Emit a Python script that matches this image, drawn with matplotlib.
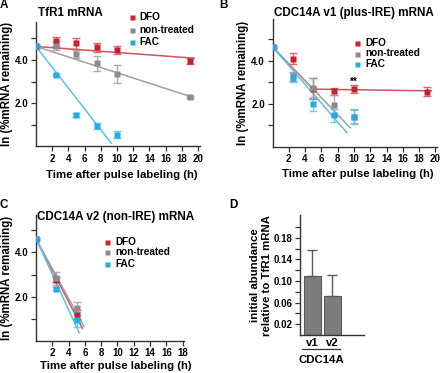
import matplotlib
matplotlib.use("Agg")
import matplotlib.pyplot as plt
import numpy as np

plt.rcParams['font.family'] = ['Liberation Sans', 'DejaVu Sans']
plt.rcParams['font.weight'] = 'bold'

RED = '#c8202f'
GREY = '#8c8c8c'
BLUE = '#29abe2'
RED_L = '#d8505c'
GREY_L = '#a0a0a0'
BLUE_L = '#5cc0ea'

series = ['DFO', 'non-treated', 'FAC']

# Panel A: TfR1 mRNA
a_x = [0, 2.5, 5, 7.5, 10, 19]
a_dfo = [4.62, 4.85, 4.77, 4.58, 4.46, 3.94]
a_dfo_err = [0.05, 0.22, 0.25, 0.2, 0.2, 0.13]
a_nt = [4.62, 4.66, 4.28, 3.85, 3.35, 2.28]
a_nt_err = [0.05, 0.22, 0.18, 0.35, 0.4, 0.05]
a_fac_x = [0, 2.5, 5, 7.5, 10]
a_fac = [4.62, 3.29, 1.46, 0.95, 0.54]
a_fac_err = [0.05, 0.05, 0.1, 0.12, 0.17]
a_fit_dfo = ([0, 19.5], [4.62, 4.08])
a_fit_nt = ([0, 19.3], [4.62, 2.28])
a_fit_fac = ([0, 9.3], [4.62, 0.15])

# Panel B: CDC14A v1 (plus-IRE)
b_x = [0, 2.5, 5, 7.5, 10, 19]
b_dfo = [4.65, 4.1, 2.7, 2.58, 2.68, 2.56]
b_dfo_err = [0.05, 0.25, 0.5, 0.15, 0.2, 0.22]
b_nt_x = [0, 2.5, 5, 7.5, 10]
b_nt = [4.65, 3.28, 2.75, 1.92, 1.4]
b_nt_err = [0.05, 0.2, 0.45, 0.5, 0.3]
b_fac_x = [0, 2.5, 5, 7.5, 10]
b_fac = [4.65, 3.22, 1.97, 1.47, 1.4]
b_fac_err = [0.05, 0.2, 0.3, 0.3, 0.35]
b_fit_dfo = ([0, 5, 19.5], [4.65, 2.68, 2.6])
b_fit_nt = ([0, 9.55], [4.65, 0.88])
b_fit_fac = ([0, 9.15], [4.65, 0.65])

# Panel C: CDC14A v2 (non-IRE)
c_x = [0, 2.5, 5]
c_dfo = [4.62, 2.76, 1.17]
c_dfo_err = [0.05, 0.12, 0.2]
c_nt = [4.62, 2.83, 1.47]
c_nt_err = [0.05, 0.3, 0.3]
c_fac = [4.62, 2.36, 0.95]
c_fac_err = [0.05, 0.08, 0.35]
c_fit_dfo = ([0, 5.7], [4.62, 0.56])
c_fit_nt = ([0, 5.9], [4.62, 0.64])
c_fit_fac = ([0, 5.3], [4.62, 0.36])

# Panel D
d_cats = ['v1', 'v2']
d_vals = [0.110, 0.072]
d_err = [0.048, 0.039]

W, H = 440, 373
fig = plt.figure(figsize=(W / 100, H / 100), dpi=100)


def fx(x):
    return x / W


def fy(y):
    return 1 - y / H


def px_axes(x0, x1, ytop, ybot):
    return fig.add_axes([x0 / W, 1 - ybot / H, (x1 - x0) / W, (ybot - ytop) / H])


def style_ax(ax, xmax, ymax, xticks, ylab_x):
    for s in ['top', 'right']:
        ax.spines[s].set_visible(False)
    for s in ['left', 'bottom']:
        ax.spines[s].set_linewidth(1.0)
        ax.spines[s].set_color('#333333')
    ax.set_xlim(0, xmax)
    ax.set_ylim(0, ymax)
    ax.set_xticks(xticks)
    ax.set_xticklabels([str(t) for t in xticks])
    ax.set_yticks([1, 2, 3, 4, 5])
    ax.set_yticklabels(['', '2.0', '', '4.0', ''])
    ax.tick_params(labelsize=7, length=3.5, width=0.9, pad=2, color='#333333')
    ax.set_ylabel('ln (%mRNA remaining)', fontsize=8.3, fontweight='bold', va='center')
    ax.yaxis.set_label_coords(ylab_x, 0.5)


def draw_series(ax, x, y, err, fit, color, light):
    ax.plot(fit[0], fit[1], color=light, lw=1.1, zorder=2)
    ax.errorbar(x, y, yerr=err, fmt='none', ecolor=light, elinewidth=1.0,
                capsize=3.2, capthick=1.0, zorder=3, alpha=0.85)
    ax.plot(x, y, 's', color=color, ms=4, zorder=4, mec='none')


def legend(mx, tx, ys):
    for lab, c, y in zip(series, [RED, GREY, BLUE], ys):
        fig.add_artist(plt.Line2D([fx(mx)], [fy(y)], marker='s', color=c, ms=3.6, mec='none', lw=0))
        fig.text(fx(tx), fy(y), lab, fontsize=7.2, fontweight='bold', va='center', ha='left')


def xlabel(cx, cy):
    fig.text(fx(cx), fy(cy), 'Time after pulse labeling (h)', fontsize=8.2,
             fontweight='bold', ha='center', va='center')


# ---- Panel A
axA = px_axes(36, 200, 22, 146.5)
style_ax(axA, 20.25, 5.75, list(range(2, 21, 2)), (7 - 36) / 164)
draw_series(axA, a_x, a_dfo, a_dfo_err, a_fit_dfo, RED, RED_L)
draw_series(axA, a_x, a_nt, a_nt_err, a_fit_nt, GREY, GREY_L)
draw_series(axA, a_fac_x, a_fac, a_fac_err, a_fit_fac, BLUE, BLUE_L)
legend(132, 139, [17, 30, 42])
xlabel(121.5, 175)
fig.text(fx(38), fy(13), 'TfR1 mRNA', fontsize=8.4, fontweight='bold', ha='left', va='center')

# ---- Panel B
axB = px_axes(272.5, 437, 18.5, 146.7)
style_ax(axB, 20.2, 5.97, list(range(2, 21, 2)), (242.7 - 272.5) / 164.5)
draw_series(axB, b_x, b_dfo, b_dfo_err, b_fit_dfo, RED, RED_L)
draw_series(axB, b_nt_x, b_nt, b_nt_err, b_fit_nt, GREY, GREY_L)
draw_series(axB, b_fac_x, b_fac, b_fac_err, b_fit_fac, BLUE, BLUE_L)
axB.text(10, 3.0, '**', fontsize=7, fontweight='bold', ha='center', va='center')
legend(356.7, 365, [43, 53.5, 64])
xlabel(358, 174)
fig.text(fx(353.5), fy(13), 'CDC14A v1 (plus-IRE) mRNA', fontsize=8.4, fontweight='bold', ha='center', va='center')

# ---- Panel C
axC = px_axes(36, 183.5, 215, 340.7)
style_ax(axC, 18.1, 5.7, list(range(2, 19, 2)), (6.5 - 36) / 147.5)
draw_series(axC, c_x, c_dfo, c_dfo_err, c_fit_dfo, RED, RED_L)
draw_series(axC, c_x, c_nt, c_nt_err, c_fit_nt, GREY, GREY_L)
draw_series(axC, c_x, c_fac, c_fac_err, c_fit_fac, BLUE, BLUE_L)
legend(107, 115, [241.7, 252.3, 264])
xlabel(116, 365.7)
fig.text(fx(37), fy(216.7), 'CDC14A v2 (non-IRE) mRNA', fontsize=8.4, fontweight='bold', ha='left', va='center')

# ---- Panel D
axD = px_axes(300, 364, 215, 335)
for s in ['top', 'right']:
    axD.spines[s].set_visible(False)
for s in ['left', 'bottom']:
    axD.spines[s].set_linewidth(1.0)
    axD.spines[s].set_color('#333333')
xpos = np.arange(len(d_cats))
axD.bar(xpos, d_vals, width=0.835, color='#7d7d7d', edgecolor='#5a5a5a', lw=0.8, zorder=2)
axD.errorbar(xpos, d_vals, yerr=[np.zeros(len(d_vals)), d_err], fmt='none',
             ecolor='#5a5a5a', elinewidth=1.0, capsize=3.5, capthick=1.0, zorder=3)
axD.set_xlim(-0.615, 2.585)
axD.set_ylim(0, 0.222)
axD.set_yticks([0.02, 0.06, 0.10, 0.14, 0.18])
axD.set_yticklabels(['0.02', '0.06', '0.10', '0.14', '0.18'])
axD.set_yticks([0.04, 0.08, 0.12, 0.16, 0.20], minor=True)
axD.set_xticks(xpos)
axD.set_xticklabels(d_cats)
axD.tick_params(axis='y', which='both', labelsize=7, length=3.5, width=0.9, pad=2, color='#333333')
axD.tick_params(axis='x', labelsize=8.2, length=0, pad=2)
axD.set_ylabel('initial abundance\nrelative to TfR1 mRNA', fontsize=8.2, fontweight='bold',
               linespacing=1.25, va='center')
axD.yaxis.set_label_coords((261 - 300) / 64, 0.5)
fig.add_artist(plt.Line2D([fx(302), fx(340)], [fy(349), fy(349)], color='#333333', lw=0.9))
fig.text(fx(321), fy(360), 'CDC14A', fontsize=8.2, fontweight='bold', ha='center', va='center')

# Panel letters
for lab, x, y in [('A', 3.5, 4.5), ('B', 223.5, 5), ('C', 3.5, 205), ('D', 233.5, 205)]:
    fig.text(fx(x), fy(y), lab, fontsize=8.4, fontweight='bold', ha='center', va='center')

fig.savefig('out.png', dpi=100)
